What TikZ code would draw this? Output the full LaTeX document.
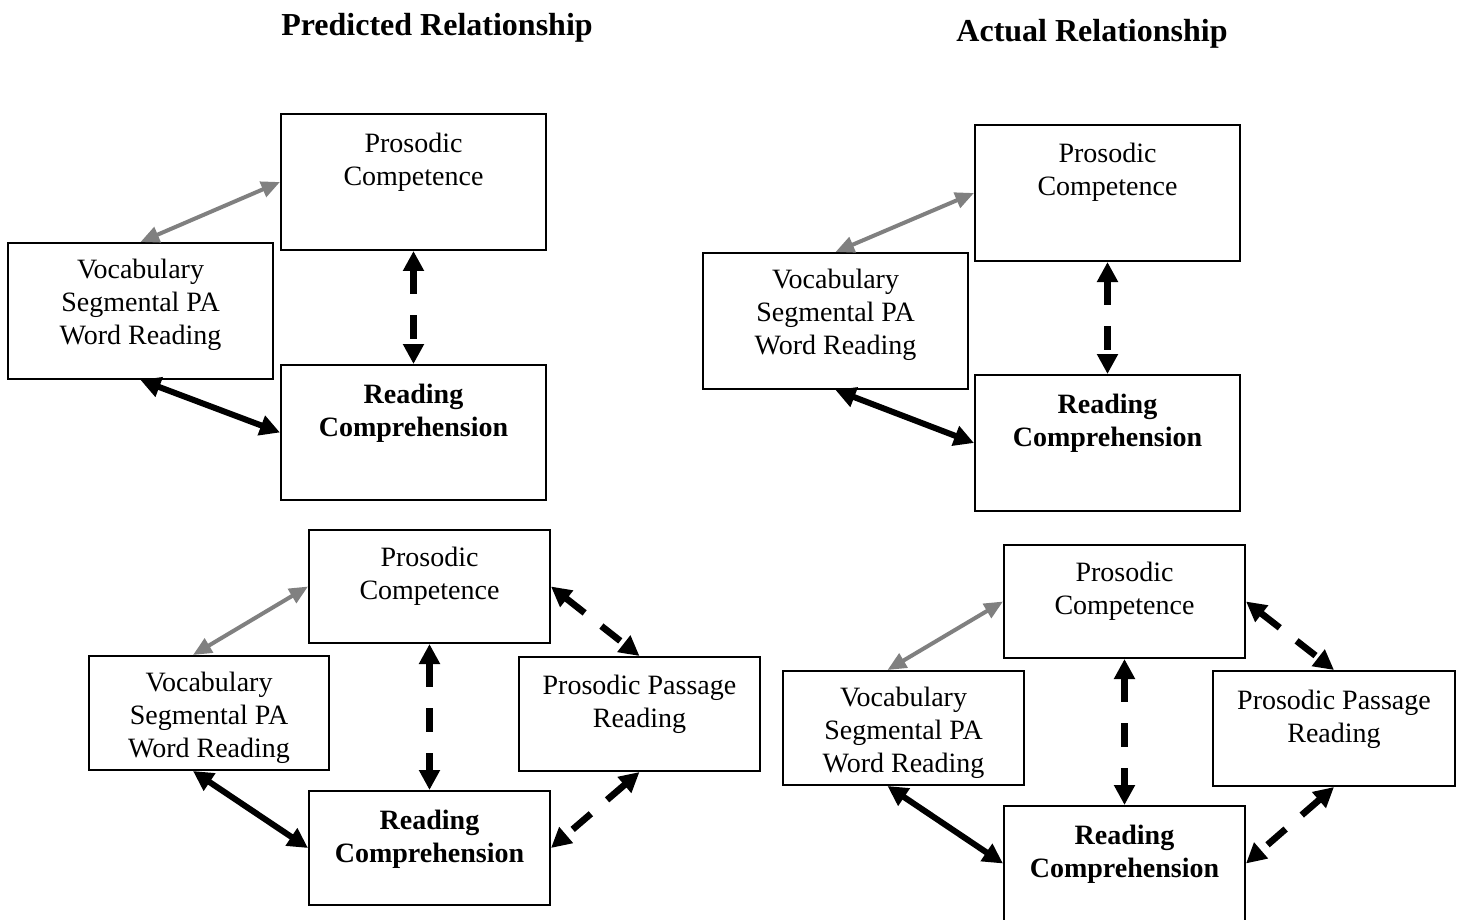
\documentclass[tikz,border=0pt]{standalone}
\usepackage{fontspec}
\setmainfont{Liberation Serif}
\usetikzlibrary{arrows.meta,calc}
\begin{document}
\begin{tikzpicture}[x=0.75pt,y=-0.75pt,
  box/.style={draw=black,line width=1.5pt,rectangle,inner sep=0pt},
  txt/.style={align=center,inner sep=0pt,font=\fontsize{21}{24.75}\selectfont},
  btxt/.style={txt,font=\fontsize{21}{24.75}\selectfont\bfseries},
  ttl/.style={inner sep=0pt,font=\fontsize{24}{28}\selectfont\bfseries},
  grayarr/.style={draw={rgb,255:red,128;green,128;blue,128},line width=3pt,
    {Triangle[length=14pt,width=12pt]}-{Triangle[length=14pt,width=12pt]}},
  solidarr/.style={draw=black,line width=4.5pt,
    {Triangle[length=15pt,width=15pt]}-{Triangle[length=15pt,width=15pt]}},
  dasharr/.style={draw=black,line width=5pt,dash pattern=on 18pt off 16pt,
    {Triangle[length=15pt,width=15pt]}-{Triangle[length=15pt,width=15pt]}}
]
\clip (0,0) rectangle (1461,920);
\fill[white] (0,0) rectangle (1461,920);

% titles
\node[ttl] (t1) at (437,28) {Predicted Relationship};
\node[ttl] (t2) at (1092,34) {Actual Relationship};

% ---------- top left
\node[box,minimum width=265*0.75pt,minimum height=136*0.75pt] (pc1) at (413.5,182) {};
\node[box,minimum width=265*0.75pt,minimum height=136*0.75pt] (voc1) at (140.5,311) {};
\node[box,minimum width=265*0.75pt,minimum height=135*0.75pt] (rc1) at (413.5,432.5) {};
\node[txt] (pc1t) at (413.5,162.5) {Prosodic\\Competence};
\node[txt] (voc1t) at (140.5,305) {Vocabulary\\Segmental PA\\Word Reading};
\node[btxt] (rc1t) at (413.5,413) {Reading\\Comprehension};
\draw[grayarr] (voc1.north) -- (pc1.west);
\draw[dasharr] (pc1.south) -- (rc1.north);
\draw[solidarr] (voc1.south) -- (rc1.west);

% ---------- top right
\node[box,minimum width=265*0.75pt,minimum height=136*0.75pt] (pc2) at (1107.5,193) {};
\node[box,minimum width=265*0.75pt,minimum height=136*0.75pt] (voc2) at (835.5,321) {};
\node[box,minimum width=265*0.75pt,minimum height=136*0.75pt] (rc2) at (1107.5,443) {};
\node[txt] (pc2t) at (1107.5,172.5) {Prosodic\\Competence};
\node[txt] (voc2t) at (835.5,315) {Vocabulary\\Segmental PA\\Word Reading};
\node[btxt] (rc2t) at (1107.5,423) {Reading\\Comprehension};
\draw[grayarr] (voc2.north) -- (pc2.west);
\draw[dasharr] (pc2.south) -- (rc2.north);
\draw[solidarr] (voc2.south) -- (rc2.west);

% ---------- bottom left
\node[box,minimum width=241*0.75pt,minimum height=113*0.75pt] (pc3) at (429.5,586.5) {};
\node[box,minimum width=240*0.75pt,minimum height=114*0.75pt] (voc3) at (209,713) {};
\node[box,minimum width=241*0.75pt,minimum height=114*0.75pt] (ppr3) at (639.5,714) {};
\node[box,minimum width=241*0.75pt,minimum height=114*0.75pt] (rc3) at (429.5,848) {};
\node[txt] (pc3t) at (429.5,576.5) {Prosodic\\Competence};
\node[txt] (voc3t) at (209,718) {Vocabulary\\Segmental PA\\Word Reading};
\node[txt] (ppr3t) at (639.5,704.5) {Prosodic Passage\\Reading};
\node[btxt] (rc3t) at (429.5,839.5) {Reading\\Comprehension};
\draw[grayarr] ($(voc3.north)+(-16,0)$) -- (pc3.west);
\draw[dasharr] (pc3.south) -- (rc3.north);
\draw[solidarr] ($(voc3.south)+(-16,0)$) -- (rc3.west);
\draw[dasharr] (pc3.east) -- (ppr3.north);
\draw[dasharr] (ppr3.south) -- (rc3.east);

% ---------- bottom right
\node[box,minimum width=241*0.75pt,minimum height=113*0.75pt] (pc4) at (1124.5,601.5) {};
\node[box,minimum width=241*0.75pt,minimum height=114*0.75pt] (voc4) at (903.5,728) {};
\node[box,minimum width=242*0.75pt,minimum height=115*0.75pt] (ppr4) at (1334,728.5) {};
\node[box,minimum width=241*0.75pt,minimum height=115*0.75pt] (rc4) at (1124.5,863.5) {};
\node[txt] (pc4t) at (1124.5,591.5) {Prosodic\\Competence};
\node[txt] (voc4t) at (903.5,733) {Vocabulary\\Segmental PA\\Word Reading};
\node[txt] (ppr4t) at (1334,719.5) {Prosodic Passage\\Reading};
\node[btxt] (rc4t) at (1124.5,854.5) {Reading\\Comprehension};
\draw[grayarr] ($(voc4.north)+(-16,0)$) -- (pc4.west);
\draw[dasharr] (pc4.south) -- (rc4.north);
\draw[solidarr] ($(voc4.south)+(-16,0)$) -- (rc4.west);
\draw[dasharr] (pc4.east) -- (ppr4.north);
\draw[dasharr] (ppr4.south) -- (rc4.east);
\end{tikzpicture}
\end{document}
